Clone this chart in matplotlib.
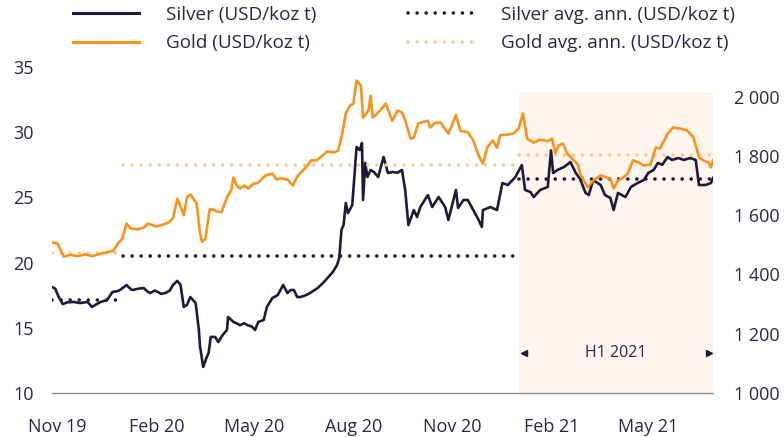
import numpy as np
import pandas as pd
import matplotlib
matplotlib.use('Agg')
import matplotlib.pyplot as plt
from matplotlib.lines import Line2D

plt.rcParams['font.family'] = ['Open Sans', 'DejaVu Sans']

# days since 1 Nov 2019
silver_day = [-5, -2, 1, 3, 5, 9, 15, 21, 28, 32, 36, 40, 46, 51, 55, 58, 64, 68, 70, 75,
              80, 83, 86, 90, 93, 96, 100, 104, 107, 111, 114, 116, 117, 120, 123, 128, 131, 132, 135, 138,
              140, 142, 146, 149, 153, 157, 158, 163, 167, 169, 173, 176, 180, 183, 186, 191, 194, 199, 204, 209,
              213, 216, 219, 222, 225, 230, 234, 241, 246, 251, 255, 259, 261, 263, 265, 267, 269, 273, 277, 280,
              282, 283, 285, 287, 290, 293, 297, 302, 306, 310, 315, 319, 322, 325, 330, 333, 336, 343, 347, 353,
              359, 362, 369, 371, 376, 380, 385, 390, 393, 394, 401, 407, 412, 417, 424, 430, 433, 438, 441, 447,
              454, 457, 459, 463, 469, 475, 480, 484, 489, 492, 496, 503, 507, 512, 515, 519, 526, 531, 537, 543,
              547, 552, 556, 560, 565, 569, 575, 580, 586, 591, 594, 600, 605, 607]
silver_usd = [18.13, 18.0, 17.4, 17.1, 16.82, 16.95, 16.98, 16.9, 16.98, 16.6, 16.8, 16.98, 17.13, 17.75, 17.8, 17.9, 18.28, 17.95, 17.9, 18.0,
              18.05, 17.8, 17.67, 17.85, 17.75, 17.6, 17.67, 17.85, 18.28, 18.6, 18.3, 17.2, 16.6, 16.75, 17.36, 16.9, 14.83, 13.6, 12.0, 12.7,
              13.07, 14.3, 14.3, 13.9, 14.45, 14.83, 15.83, 15.45, 15.3, 15.2, 15.35, 15.2, 15.1, 14.83, 15.45, 15.6, 16.6, 17.28, 17.51, 18.28,
              17.67, 17.9, 17.9, 17.36, 17.36, 17.5, 17.67, 18.05, 18.44, 18.9, 19.28, 19.82, 20.4, 22.5, 22.9, 24.57, 23.8, 24.42, 28.87, 28.63,
              29.17, 24.8, 27.64, 26.56, 27.1, 26.95, 26.56, 28.1, 26.87, 26.95, 26.9, 27.1, 25.57, 22.88, 24.03, 23.5, 24.26, 25.18, 24.26, 25.03,
              24.26, 23.27, 25.57, 24.19, 24.8, 24.8, 24.03, 23.27, 22.73, 24.03, 24.26, 24.03, 26.1, 25.95, 26.56, 27.48, 25.57, 25.41, 25.03, 25.57,
              25.8, 28.6, 26.87, 27.1, 27.33, 27.71, 26.87, 26.4, 25.34, 25.18, 26.33, 25.95, 25.18, 24.95, 24.03, 25.34, 25.03, 25.8, 26.1, 26.33,
              26.87, 27.1, 27.64, 27.5, 28.1, 27.87, 28.02, 27.87, 28.02, 27.87, 25.95, 25.95, 26.1, 26.49]

gold_day = [-5, 0, 6, 12, 19, 26, 32, 40, 47, 52, 56, 60, 64, 68, 74, 80, 84, 91, 95, 103,
            107, 111, 114, 117, 120, 123, 129, 132, 134, 137, 141, 145, 148, 152, 157, 161, 163, 166, 169, 173,
            177, 181, 186, 193, 199, 203, 207, 213, 218, 222, 227, 231, 235, 240, 245, 250, 256, 260, 264, 267,
            271, 274, 277, 281, 283, 288, 290, 292, 296, 301, 304, 310, 315, 319, 322, 327, 330, 334, 339, 343,
            345, 350, 355, 359, 362, 369, 373, 380, 385, 390, 394, 398, 403, 407, 410, 417, 422, 427, 431, 435,
            441, 447, 454, 458, 461, 464, 468, 472, 477, 482, 484, 491, 496, 503, 508, 512, 515, 519, 523, 528,
            533, 538, 543, 549, 554, 558, 565, 570, 577, 583, 589, 594, 598, 603, 605, 607]
gold_usd = [1508, 1505, 1460, 1466, 1462, 1468, 1462, 1470, 1476, 1480, 1505, 1520, 1572, 1555, 1552, 1558, 1572, 1562, 1565, 1575,
            1590, 1655, 1630, 1600, 1660, 1670, 1640, 1540, 1510, 1520, 1620, 1618, 1612, 1610, 1660, 1685, 1727, 1700, 1690, 1700,
            1690, 1705, 1710, 1735, 1740, 1720, 1725, 1720, 1700, 1730, 1750, 1765, 1785, 1785, 1800, 1815, 1812, 1818, 1880, 1943,
            1970, 1976, 2054, 2037, 1929, 1953, 2003, 1929, 1943, 1963, 1976, 1919, 1953, 1946, 1920, 1858, 1862, 1909, 1915, 1919,
            1896, 1912, 1912, 1890, 1875, 1938, 1885, 1880, 1852, 1801, 1774, 1828, 1852, 1828, 1870, 1872, 1875, 1892, 1943, 1858,
            1845, 1855, 1850, 1858, 1810, 1835, 1842, 1808, 1790, 1770, 1740, 1694, 1717, 1734, 1728, 1722, 1690, 1717, 1725, 1740,
            1785, 1778, 1768, 1770, 1828, 1825, 1875, 1896, 1892, 1886, 1862, 1795, 1785, 1778, 1761, 1785]

# annual averages over the plotted period
avg_start = ['2019-10-27', '2020-01-01', '2021-01-01']
avg_end = ['2019-12-26', '2020-12-29', '2021-06-30']
silver_avg = [17.13, 20.53, 26.4]
gold_avg = [1472, 1768, 1804]

tick_dates = ['2019-11-01', '2020-02-01', '2020-05-01', '2020-08-01', '2020-11-01', '2021-02-01', '2021-05-01']
tick_labels = ['Nov 19', 'Feb 20', 'May 20', 'Aug 20', 'Nov 20', 'Feb 21', 'May 21']

start = pd.Timestamp('2019-11-01')
s_dates = start + pd.to_timedelta(silver_day, unit='D')
g_dates = start + pd.to_timedelta(gold_day, unit='D')

NAVY = '#1f1a3a'
ORANGE = '#f7931e'
LIGHT = '#ffc996'
TXT = '#2a2746'
dots = (0, (0.01, 2.5))

fig = plt.figure(figsize=(7.84, 4.37), dpi=100)
ax = fig.add_axes([52/784, 1-393/437, (713-52)/784, (393-67)/437])
ax2 = ax.twinx()

ax.axvspan(pd.Timestamp('2021-01-01'), pd.Timestamp('2021-06-30'), ymin=0, ymax=0.923,
           color='#fef5ee', lw=0, zorder=0)

for a, b, s, g in zip(avg_start, avg_end, silver_avg, gold_avg):
    ax.plot([pd.Timestamp(a), pd.Timestamp(b)], [s, s], color=NAVY, lw=2.6,
            linestyle=dots, dash_capstyle='round', zorder=2)
    ax2.plot([pd.Timestamp(a), pd.Timestamp(b)], [g, g], color=LIGHT, lw=2.6,
             linestyle=dots, dash_capstyle='round', zorder=1)

ax2.plot(g_dates, gold_usd, color=ORANGE, lw=1.9, zorder=2)
ax.plot(s_dates, silver_usd, color=NAVY, lw=1.9, zorder=3)

ax.set_xlim(pd.Timestamp('2019-10-27'), pd.Timestamp('2021-06-30'))
ax.set_ylim(10, 35)
ax2.set_ylim(1000, 2100)
ax.set_yticks([10, 15, 20, 25, 30, 35])
ax2.set_yticks([1000, 1200, 1400, 1600, 1800, 2000])
ax2.set_yticklabels(['{:,}'.format(v).replace(',', ' ') for v in [1000, 1200, 1400, 1600, 1800, 2000]])
ax.set_xticks(pd.to_datetime(tick_dates))
ax.set_xticklabels(tick_labels)

ax.tick_params(axis='y', length=0, pad=13, labelsize=13, labelcolor=TXT)
ax.tick_params(axis='x', length=0, pad=18, labelsize=13, labelcolor=TXT)
ax2.tick_params(axis='y', length=0, pad=15, labelsize=13, labelcolor=TXT)

for a in (ax, ax2):
    for side in ['top', 'right', 'left', 'bottom']:
        a.spines[side].set_visible(False)
ax.spines['bottom'].set_visible(True)
ax.spines['bottom'].set_color('#8c8c8c')
ax.spines['bottom'].set_linewidth(1)

# H1 2021 marker
ax.text(pd.Timestamp('2021-04-01'), 13.07, 'H1 2021', ha='center', va='center',
        fontsize=11.5, color=TXT)
ax.plot([pd.Timestamp('2021-01-06')], [13.07], marker='<', ms=4, color=NAVY, lw=0)
ax.plot([pd.Timestamp('2021-06-26')], [13.07], marker='>', ms=4, color=NAVY, lw=0)

handles = [
    Line2D([], [], color=NAVY, lw=2.2),
    Line2D([], [], color=ORANGE, lw=2.2),
    Line2D([], [], color=NAVY, lw=2.6, linestyle=dots, dash_capstyle='round'),
    Line2D([], [], color=LIGHT, lw=2.6, linestyle=dots, dash_capstyle='round'),
]
labels = ['Silver (USD/koz t)', 'Gold (USD/koz t)',
          'Silver avg. ann. (USD/koz t)', 'Gold avg. ann. (USD/koz t)']
fig.legend(handles, labels, ncol=2, loc='upper left', bbox_to_anchor=(73/784, 1 - 6/437),
           frameon=False, fontsize=13.6, handlelength=3.5, handletextpad=1.45,
           columnspacing=4.8, labelspacing=0.55, borderpad=0, borderaxespad=0,
           labelcolor=TXT)

fig.savefig('out.png', dpi=100)
